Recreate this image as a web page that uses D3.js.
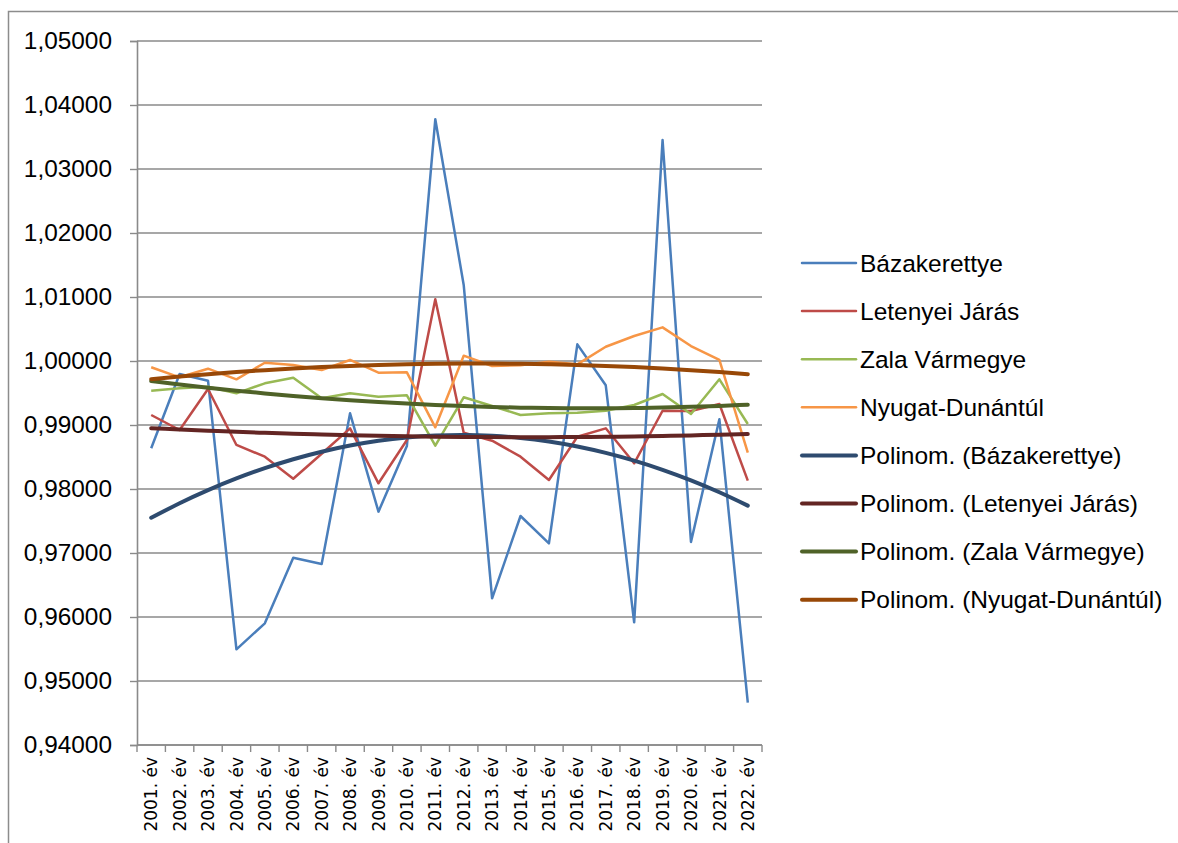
<!DOCTYPE html>
<html>
<head>
<meta charset="utf-8">
<script src="https://cdn.jsdelivr.net/npm/d3@7"></script>
<style>
  body { margin: 0; background: #fff; }
  svg { display: block; }
</style>
</head>
<body>
<svg id="chart" width="1178" height="843"></svg>
<script>
// categories
const years = ['2001. év','2002. év','2003. év','2004. év','2005. év','2006. év','2007. év',
  '2008. év','2009. év','2010. év','2011. év','2012. év','2013. év','2014. év','2015. év',
  '2016. év','2017. év','2018. év','2019. év','2020. év','2021. év','2022. év'];

// series values
const bazakerettye = [0.98636,0.99797,0.99692,0.95495,0.95901,0.96927,0.96828,0.99182,0.97646,0.98672,
  1.03777,1.01188,0.96292,0.97578,0.97151,1.00260,0.99620,0.95917,1.03453,0.97172,0.99089,0.94661];
const letenyei = [0.99156,0.98922,0.99563,0.98688,0.98505,0.98161,0.98551,0.98948,0.98089,0.98766,
  1.00964,0.98880,0.98755,0.98505,0.98141,0.98817,0.98948,0.98401,0.99223,0.99219,0.99328,0.98130];
const zala = [0.99536,0.99573,0.99599,0.99495,0.99651,0.99739,0.99417,0.99495,0.99443,0.99464,
  0.98677,0.99433,0.99297,0.99156,0.99182,0.99193,0.99223,0.99313,0.99484,0.99172,0.99714,0.99016];
const nyugat = [0.99902,0.99745,0.99880,0.99714,0.99973,0.99938,0.99859,1.00016,0.99817,0.99823,
  0.98964,1.00083,0.99922,0.99933,0.99989,0.99948,1.00223,1.00391,1.00526,1.00234,1.00016,0.98568];

const seriesNames = ['Bázakerettye','Letenyei Járás','Zala Vármegye','Nyugat-Dunántúl'];
const seriesValues = [bazakerettye, letenyei, zala, nyugat];
const lineColors = ['#4A7EBB','#BE4B48','#98B954','#F79646'];
const trendColors = ['#2E4B6F','#632523','#4F6228','#984807'];

const yTicks = [0.94,0.95,0.96,0.97,0.98,0.99,1.00,1.01,1.02,1.03,1.04,1.05];

// 2nd order polynomial least squares fit (like the "Polinom." trendline)
function polyFit2(vals){
  let s = [0,0,0,0,0], t = [0,0,0];
  vals.forEach((v,i) => {
    const xv = i + 1;
    for(let k=0;k<5;k++) s[k] += Math.pow(xv,k);
    for(let k=0;k<3;k++) t[k] += v*Math.pow(xv,k);
  });
  // solve 3x3 normal equations
  const A = [[s[0],s[1],s[2],t[0]],[s[1],s[2],s[3],t[1]],[s[2],s[3],s[4],t[2]]];
  for(let c=0;c<3;c++){
    for(let r=c+1;r<3;r++){
      const f = A[r][c]/A[c][c];
      for(let k=c;k<4;k++) A[r][k] -= f*A[c][k];
    }
  }
  const b = [0,0,0];
  for(let r=2;r>=0;r--){
    let sum = A[r][3];
    for(let k=r+1;k<3;k++) sum -= A[r][k]*b[k];
    b[r] = sum/A[r][r];
  }
  return vals.map((v,i) => b[0] + b[1]*(i+1) + b[2]*(i+1)*(i+1));
}

const svg = d3.select('#chart');

// outer frame
svg.append('rect')
  .attr('x', 8.5).attr('y', 11.5)
  .attr('width', 1300).attr('height', 900)
  .attr('fill', 'none').attr('stroke', '#8c8c8c').attr('stroke-width', 1.5);

const plotLeft = 137, plotRight = 762, plotTop = 41, plotBottom = 745;

const x = d3.scaleBand().domain(years).range([plotLeft, plotRight]);
const y = d3.scaleLinear().domain([0.94, 1.05]).range([plotBottom, plotTop]);
const cx = d => x(d) + x.bandwidth()/2;

// gridlines
svg.append('g')
  .selectAll('line')
  .data(yTicks)
  .enter()
  .append('line')
  .attr('x1', plotLeft).attr('x2', plotRight)
  .attr('y1', d => y(d)).attr('y2', d => y(d))
  .attr('stroke', '#8a8a8a').attr('stroke-width', 1.6);

// y axis
const fmt = d3.format('.5f');
const yAxis = svg.append('g')
  .attr('transform', `translate(${plotLeft},0)`)
  .call(d3.axisLeft(y).tickValues(yTicks).tickSize(7).tickPadding(18)
    .tickFormat(d => fmt(d).replace('.', ',')));
yAxis.select('.domain').attr('stroke', '#8a8a8a').attr('stroke-width', 1.6);
yAxis.selectAll('.tick line').attr('stroke', '#8a8a8a').attr('stroke-width', 1.4);
yAxis.selectAll('.tick text')
  .attr('font-family', '"Liberation Sans", Arial, sans-serif')
  .attr('font-size', '24.4px').attr('fill', '#000');

// x axis line and boundary ticks
svg.append('line')
  .attr('x1', plotLeft).attr('x2', plotRight)
  .attr('y1', plotBottom).attr('y2', plotBottom)
  .attr('stroke', '#8a8a8a').attr('stroke-width', 1.6);

svg.append('g')
  .selectAll('line')
  .data(years.concat(['end']))
  .enter()
  .append('line')
  .attr('x1', d => d === 'end' ? plotRight : x(d))
  .attr('x2', d => d === 'end' ? plotRight : x(d))
  .attr('y1', plotBottom).attr('y2', plotBottom + 7)
  .attr('stroke', '#8a8a8a').attr('stroke-width', 1.4);

svg.append('g')
  .selectAll('text')
  .data(years)
  .enter()
  .append('text')
  .attr('transform', d => `translate(${cx(d)},757) rotate(-90)`)
  .attr('text-anchor', 'end')
  .attr('dy', '0.36em')
  .attr('font-family', '"DejaVu Sans", Verdana, sans-serif')
  .attr('font-size', '17px')
  .attr('fill', '#000')
  .text(d => d);

const line = d3.line()
  .x((d, i) => cx(years[i]))
  .y(d => y(d));

// data lines
svg.append('g')
  .selectAll('path')
  .data(seriesValues)
  .enter()
  .append('path')
  .attr('d', d => line(d))
  .attr('fill', 'none')
  .attr('stroke', (d, i) => lineColors[i])
  .attr('stroke-width', 2.5)
  .attr('stroke-linejoin', 'round');

// trend lines
const trendLine = d3.line()
  .x((d, i) => cx(years[i]))
  .y(d => y(d))
  .curve(d3.curveNatural);

svg.append('g')
  .selectAll('path')
  .data(seriesValues.map(polyFit2))
  .enter()
  .append('path')
  .attr('d', d => trendLine(d))
  .attr('fill', 'none')
  .attr('stroke', (d, i) => trendColors[i])
  .attr('stroke-width', 4)
  .attr('stroke-linecap', 'round');

// legend
const legendItems = seriesNames.map((n, i) => ({name: n, color: lineColors[i], w: 2.5}))
  .concat(seriesNames.map((n, i) => ({name: 'Polinom. (' + n + ')', color: trendColors[i], w: 4})));

const legend = svg.append('g');
const rows = legend.selectAll('g')
  .data(legendItems)
  .enter()
  .append('g')
  .attr('transform', (d, i) => `translate(802,${263 + i*48.1})`);
rows.append('line')
  .attr('x1', 0).attr('x2', 54)
  .attr('stroke', d => d.color)
  .attr('stroke-width', d => d.w)
  .attr('stroke-linecap', 'round');
rows.append('text')
  .attr('x', 58)
  .attr('dy', '0.35em')
  .attr('font-family', '"Liberation Sans", Arial, sans-serif')
  .attr('font-size', '24.5px')
  .attr('fill', '#000')
  .text(d => d.name);
</script>
</body>
</html>
